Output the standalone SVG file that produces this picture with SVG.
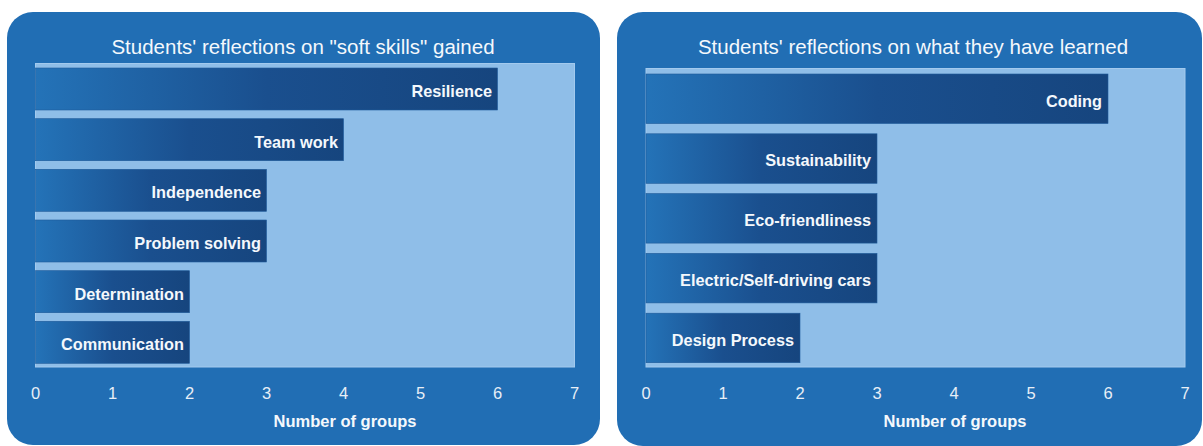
<svg xmlns="http://www.w3.org/2000/svg" width="1203" height="446" viewBox="0 0 1203 446">
  <defs>
    <linearGradient id="barGrad" x1="0" y1="0" x2="1" y2="0">
      <stop offset="0" stop-color="#2473B8"/>
      <stop offset="0.5" stop-color="#1A4F8E"/>
      <stop offset="1" stop-color="#16457E"/>
    </linearGradient>
  </defs>
  <style>
    .panel { fill: #216EB4; }
    .plot { fill: #8FBEE8; stroke: #A3CAEE; stroke-width: 1; }
    .bar { fill: url(#barGrad); stroke: #1E5A99; stroke-width: 0.6; }
    .title { font-family: "Liberation Sans", Arial, sans-serif; font-size: 20.5px; fill: #F4F8FC; text-anchor: middle; }
    .lbl { font-family: "Liberation Sans", Arial, sans-serif; font-size: 16.3px; font-weight: bold; fill: #F4F8FC; text-anchor: end; }
    .tick { font-family: "Liberation Sans", Arial, sans-serif; font-size: 16.5px; fill: #E8EFF7; text-anchor: middle; }
    .axis { font-family: "Liberation Sans", Arial, sans-serif; font-size: 16.5px; font-weight: bold; fill: #F4F8FC; text-anchor: middle; }
  </style>

  <g id="chart-soft-skills">
    <rect class="panel" x="7" y="12" width="593" height="433" rx="26" ry="26"/>
    <text class="title" x="303" y="54">Students' reflections on "soft skills" gained</text>
    <rect class="plot" x="35.5" y="63.5" width="539" height="303.5"/>
    <g id="bar-resilience">
      <rect class="bar" x="35.5" y="68" width="462" height="42"/>
      <text class="lbl" x="492" y="97">Resilience</text>
    </g>
    <g id="bar-team-work">
      <rect class="bar" x="35.5" y="118.7" width="308" height="42"/>
      <text class="lbl" x="338" y="147.7">Team work</text>
    </g>
    <g id="bar-independence">
      <rect class="bar" x="35.5" y="169.3" width="231" height="42"/>
      <text class="lbl" x="261" y="198.3">Independence</text>
    </g>
    <g id="bar-problem-solving">
      <rect class="bar" x="35.5" y="220" width="231" height="42"/>
      <text class="lbl" x="261" y="249">Problem solving</text>
    </g>
    <g id="bar-determination">
      <rect class="bar" x="35.5" y="270.7" width="154" height="42"/>
      <text class="lbl" x="184" y="299.7">Determination</text>
    </g>
    <g id="bar-communication">
      <rect class="bar" x="35.5" y="321.3" width="154" height="42"/>
      <text class="lbl" x="184" y="350.3">Communication</text>
    </g>
    <g id="axis-left">
      <text class="tick" x="35.5" y="399">0</text>
      <text class="tick" x="112.5" y="399">1</text>
      <text class="tick" x="189.5" y="399">2</text>
      <text class="tick" x="266.5" y="399">3</text>
      <text class="tick" x="343.5" y="399">4</text>
      <text class="tick" x="420.5" y="399">5</text>
      <text class="tick" x="497.5" y="399">6</text>
      <text class="tick" x="574.5" y="399">7</text>
      <text class="axis" x="345" y="427">Number of groups</text>
    </g>
  </g>

  <g id="chart-learned">
    <rect class="panel" x="617" y="12" width="585" height="434" rx="26" ry="26"/>
    <text class="title" x="913" y="54">Students' reflections on what they have learned</text>
    <rect class="plot" x="646" y="68.5" width="539" height="298.5"/>
    <g id="bar-coding">
      <rect class="bar" x="646" y="74" width="462" height="49.5"/>
      <text class="lbl" x="1102" y="106.5">Coding</text>
    </g>
    <g id="bar-sustainability">
      <rect class="bar" x="646" y="133.8" width="231" height="49.5"/>
      <text class="lbl" x="871" y="166.3">Sustainability</text>
    </g>
    <g id="bar-eco-friendliness">
      <rect class="bar" x="646" y="193.6" width="231" height="49.5"/>
      <text class="lbl" x="871" y="226.1">Eco-friendliness</text>
    </g>
    <g id="bar-electric-cars">
      <rect class="bar" x="646" y="253.4" width="231" height="49.5"/>
      <text class="lbl" x="871" y="285.9">Electric/Self-driving cars</text>
    </g>
    <g id="bar-design-process">
      <rect class="bar" x="646" y="313.2" width="154" height="49.5"/>
      <text class="lbl" x="794" y="345.7">Design Process</text>
    </g>
    <g id="axis-right">
      <text class="tick" x="646" y="399">0</text>
      <text class="tick" x="723" y="399">1</text>
      <text class="tick" x="800" y="399">2</text>
      <text class="tick" x="877" y="399">3</text>
      <text class="tick" x="954" y="399">4</text>
      <text class="tick" x="1031" y="399">5</text>
      <text class="tick" x="1108" y="399">6</text>
      <text class="tick" x="1185" y="399">7</text>
      <text class="axis" x="955" y="427">Number of groups</text>
    </g>
  </g>
</svg>
